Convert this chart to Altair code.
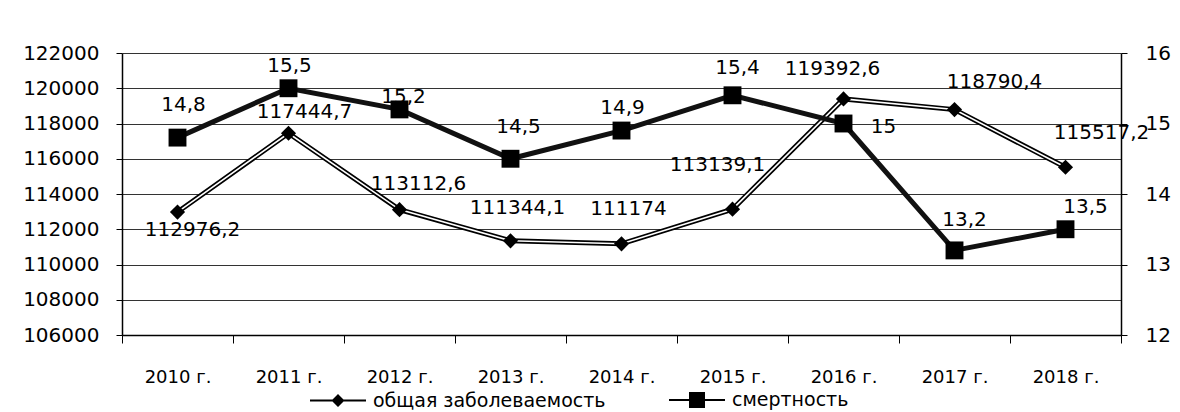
import altair as alt
import pandas as pd

years = ["2010 г.", "2011 г.", "2012 г.", "2013 г.", "2014 г.", "2015 г.", "2016 г.", "2017 г.", "2018 г."]
morbidity = [112976.2, 117444.7, 113112.6, 111344.1, 111174, 113139.1, 119392.6, 118790.4, 115517.2]
mortality = [14.8, 15.5, 15.2, 14.5, 14.9, 15.4, 15, 13.2, 13.5]
series_names = ["общая заболеваемость", "смертность"]
left_ticks = list(range(106000, 122001, 2000))
right_ticks = [12, 13, 14, 15, 16]

def fmt(v):
    return str(v).replace(".", ",")

df = pd.DataFrame({
    "year": years,
    "morb": morbidity,
    "mort": mortality,
    "morb_lbl": [fmt(v) for v in morbidity],
    "mort_lbl": [fmt(v) for v in mortality],
})

FONT = "DejaVu Sans"

# label placement (pixel offsets from each marker)
morb_off = {"2010 г.": (15, 18), "2011 г.": (16, -21), "2012 г.": (19, -26), "2013 г.": (7, -33),
            "2014 г.": (7, -35), "2015 г.": (-15, -44), "2016 г.": (-11, -30), "2017 г.": (40, -28),
            "2018 г.": (36, -34)}
mort_off = {"2010 г.": (6, -33), "2011 г.": (1, -22), "2012 г.": (4, -12), "2013 г.": (8, -32),
            "2014 г.": (1, -23), "2015 г.": (5, -27), "2016 г.": (40, 3), "2017 г.": (10, -30),
            "2018 г.": (20, -22)}

x_enc = alt.X("year:N", sort=years, title=None,
              scale=alt.Scale(type="band", domain=years, paddingInner=0, paddingOuter=0),
              axis=alt.Axis(labelAngle=0, tickBand="extent", tickSize=8, labelPadding=25,
                            labelFontSize=18, labelFont=FONT, labelColor="black",
                            domainColor="black", domainWidth=1.5, tickColor="black", grid=False))

y_left = alt.Y("morb:Q", title=None,
               scale=alt.Scale(domain=[106000, 122000], nice=False, zero=False),
               axis=alt.Axis(orient="left", values=left_ticks, format="d", grid=True,
                             gridColor="#333", gridWidth=1.2, tickSize=6, labelPadding=17,
                             labelFontSize=20, labelFont=FONT, labelColor="black",
                             domainColor="black", domainWidth=1.5, tickColor="black"))

y_right = alt.Y("mort:Q", title=None,
                scale=alt.Scale(domain=[12, 16], nice=False, zero=False),
                axis=alt.Axis(orient="right", values=right_ticks, format="d", grid=False,
                              tickSize=6, labelPadding=18, labelFontSize=20, labelFont=FONT,
                              labelColor="black", domainColor="black", domainWidth=1.5,
                              tickColor="black"))

base = alt.Chart(df)

morb_outer = base.mark_line(color="black", strokeWidth=5).encode(x=x_enc, y=y_left)
morb_inner = base.mark_line(color="white", strokeWidth=1.6).encode(x=x_enc, y=y_left)
morb_pts = base.mark_point(shape="diamond", filled=True, color="black", size=230, opacity=1).encode(x=x_enc, y=y_left)

morb_labels = []
for yr, (dx, dy) in morb_off.items():
    morb_labels.append(
        base.transform_filter(alt.datum.year == yr)
        .mark_text(font=FONT, fontSize=20, color="black", dx=dx, dy=dy, baseline="middle", align="center")
        .encode(x=x_enc, y=y_left, text="morb_lbl:N")
    )

# legend-only layer (no rows drawn): symbol = short bar with the series marker
legend_layer = base.transform_filter("false").mark_point(
    filled=True, color="black", size=400, opacity=1
).encode(
    shape=alt.Shape("series:N",
                    scale=alt.Scale(domain=series_names,
                                    range=["M-2.8,-0.11H2.8V0.11H-2.8Z M0,-0.65L0.65,0L0,0.65L-0.65,0Z",
                                           "M-2.8,-0.11H2.8V0.11H-2.8Z M-0.8,-0.8H0.8V0.8H-0.8Z"]),
                    legend=alt.Legend(title=None, orient="none", legendX=205, legendY=336,
                                      direction="horizontal", columns=2, columnPadding=60,
                                      labelFont=FONT, labelFontSize=19, labelColor="black",
                                      labelLimit=0, labelOffset=24, symbolSize=400,
                                      symbolFillColor="black", symbolOpacity=1, padding=0))
)

left_layer = alt.layer(morb_outer, morb_inner, morb_pts, *morb_labels, legend_layer)

mort_line = base.mark_line(color="#111", strokeWidth=5).encode(x=x_enc, y=y_right)
mort_pts = base.mark_point(shape="square", filled=True, color="black", size=320, opacity=1).encode(x=x_enc, y=y_right)
mort_labels = []
for yr, (dx, dy) in mort_off.items():
    mort_labels.append(
        base.transform_filter(alt.datum.year == yr)
        .mark_text(font=FONT, fontSize=20, color="black", dx=dx, dy=dy, baseline="middle", align="center")
        .encode(x=x_enc, y=y_right, text="mort_lbl:N")
    )
right_layer = alt.layer(mort_line, mort_pts, *mort_labels)

chart = alt.layer(left_layer, right_layer).resolve_scale(y="independent").properties(
    width=999, height=282,
    padding={"left": 14, "top": 35, "right": 0, "bottom": 0},
    background="white",
).configure_view(stroke=None)

chart.save("out.html", embed_options={"renderer": "svg", "actions": False})
